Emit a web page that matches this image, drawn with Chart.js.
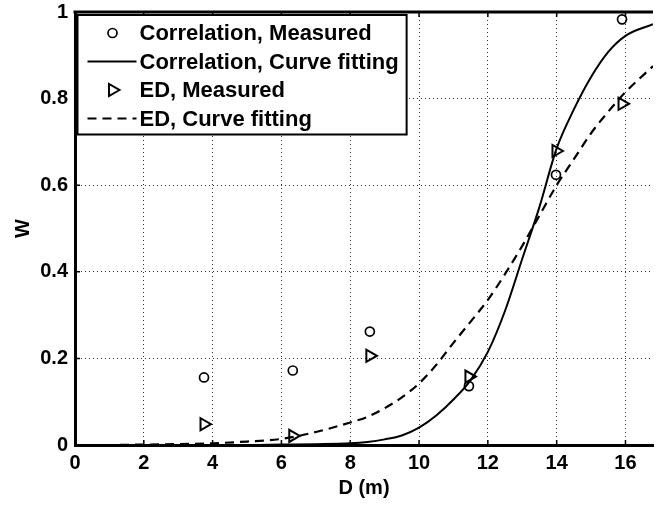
<!DOCTYPE html>
<html>
<head>
<meta charset="utf-8">
<script src="https://cdn.jsdelivr.net/npm/chart.js@4.4.0/dist/chart.umd.min.js"></script>
<style>
body { margin: 0; background: #fff; }
#wrap { width: 662px; height: 506px; }
</style>
</head>
<body>
<div id="wrap"><canvas id="chart" width="662" height="506"></canvas></div>
<script>
// measured points
var measuredD = [3.75, 6.33, 8.57, 11.45, 13.98, 15.9];
var corrMeasured = [0.156, 0.172, 0.262, 0.136, 0.624, 0.983];
var edMeasured = [0.048, 0.021, 0.206, 0.158, 0.679, 0.788];

// fitted curves
var fitD = [0, 1, 2, 3, 4, 5, 6, 7, 8, 8.5, 9, 9.5, 10, 10.5, 11, 11.5, 12, 12.5, 13, 13.5, 14, 14.5, 15, 15.5, 16, 16.8];
var corrFit = [0, 0, 0, 0, 0, 0, 0.001, 0.002, 0.004, 0.007, 0.013, 0.022, 0.04, 0.068, 0.105, 0.15, 0.215, 0.31, 0.43, 0.55, 0.685, 0.775, 0.85, 0.908, 0.945, 0.972];
var edFit = [0, 0, 0.001, 0.002, 0.004, 0.008, 0.014, 0.03, 0.052, 0.065, 0.085, 0.11, 0.142, 0.185, 0.236, 0.285, 0.335, 0.395, 0.46, 0.53, 0.6, 0.66, 0.72, 0.77, 0.815, 0.875];

var xTicks = [0, 2, 4, 6, 8, 10, 12, 14, 16];
var yTicks = [0, 0.2, 0.4, 0.6, 0.8, 1];

var FONT = '"Liberation Sans", Arial, sans-serif';
Chart.defaults.font.family = FONT;
Chart.defaults.color = '#000';

function pts(xs, ys) {
    return xs.map(function (x, i) { return { x: x, y: ys[i] }; });
}

var framePlugin = {
    id: 'frame',
    afterDatasetsDraw: function (chart) {
        var a = chart.chartArea, c = chart.ctx;
        var xs = chart.scales.x, ys = chart.scales.y;
        c.save();
        c.strokeStyle = '#000';
        c.lineWidth = 3;
        c.beginPath();
        c.moveTo(a.left - 1.5, a.top);
        c.lineTo(a.right, a.top);
        c.stroke();
        c.lineWidth = 1.5;
        c.beginPath();
        xTicks.forEach(function (v) {
            var px = xs.getPixelForValue(v);
            c.moveTo(px, a.top); c.lineTo(px, a.top + 5);
            c.moveTo(px, a.bottom); c.lineTo(px, a.bottom - 5);
        });
        yTicks.forEach(function (v) {
            var py = ys.getPixelForValue(v);
            c.moveTo(a.left, py); c.lineTo(a.left + 5, py);
        });
        c.stroke();
        c.restore();
    }
};

var legendPlugin = {
    id: 'insideLegend',
    afterDraw: function (chart) {
        var c = chart.ctx, a = chart.chartArea;
        var sets = chart.data.datasets;
        c.save();
        c.font = 'bold 22px ' + FONT;
        var w = 0;
        sets.forEach(function (d) { w = Math.max(w, c.measureText(d.label).width); });
        var left = a.left + 2.5, top = a.top + 3, rowH = 28.5;
        var textX = left + 62;
        var right = textX + w + 8;
        var bottom = top + 18 + rowH * 3 + 16;
        c.fillStyle = '#fff';
        c.fillRect(left, top, right - left, bottom - top);
        c.strokeStyle = '#000';
        c.lineWidth = 2;
        c.strokeRect(left, top, right - left, bottom - top);

        sets.forEach(function (d, i) {
            var y = top + 18 + rowH * i;
            c.strokeStyle = '#000';
            if (d.showLine) {
                c.lineWidth = d.borderWidth;
                c.setLineDash(d.borderDash || []);
                c.beginPath();
                c.moveTo(left + 10, y);
                c.lineTo(textX - 3, y);
                c.stroke();
                c.setLineDash([]);
            } else {
                c.lineWidth = d.pointBorderWidth;
                c.fillStyle = 'rgba(0,0,0,0)';
                Chart.helpers.drawPoint(c, {
                    pointStyle: d.pointStyle,
                    rotation: d.pointRotation || 0,
                    radius: d.pointRadius,
                    borderWidth: d.pointBorderWidth
                }, left + 35, y);
            }
            c.fillStyle = '#000';
            c.textBaseline = 'middle';
            c.textAlign = 'left';
            c.fillText(d.label, textX, y + 1);
        });
        c.restore();
    }
};

var ctx = document.getElementById('chart');
var myChart = new Chart(ctx, {
    type: 'scatter',
    data: {
        datasets: [{
            label: 'Correlation, Measured',
            data: pts(measuredD, corrMeasured),
            showLine: false,
            pointStyle: 'circle',
            pointRadius: 4.5,
            pointBorderWidth: 1.7,
            pointBorderColor: '#000',
            pointBackgroundColor: 'rgba(0,0,0,0)'
        }, {
            label: 'Correlation, Curve fitting',
            data: pts(fitD, corrFit),
            showLine: true,
            borderColor: '#000',
            borderWidth: 2,
            pointRadius: 0,
            cubicInterpolationMode: 'monotone'
        }, {
            label: 'ED, Measured',
            data: pts(measuredD, edMeasured),
            showLine: false,
            pointStyle: 'triangle',
            pointRotation: 90,
            pointRadius: 7,
            pointBorderWidth: 2,
            pointBorderColor: '#000',
            pointBackgroundColor: 'rgba(0,0,0,0)'
        }, {
            label: 'ED, Curve fitting',
            data: pts(fitD, edFit),
            showLine: true,
            borderColor: '#000',
            borderWidth: 2.2,
            borderDash: [9, 6],
            pointRadius: 0,
            cubicInterpolationMode: 'monotone'
        }]
    },
    options: {
        responsive: false,
        animation: false,
        layout: { padding: { top: 12, right: 0, left: 0, bottom: 0 } },
        plugins: {
            legend: { display: false },
            tooltip: { enabled: false }
        },
        scales: {
            x: {
                type: 'linear',
                min: 0,
                max: 16.8,
                afterBuildTicks: function (s) { s.ticks = xTicks.map(function (v) { return { value: v }; }); },
                afterFit: function (s) { s.height = 61; s.paddingRight = 0; },
                ticks: { font: { size: 20, weight: 'bold' }, color: '#000', padding: 6, maxRotation: 0, autoSkip: false },
                grid: { color: '#333', lineWidth: 1, drawTicks: false },
                border: { color: '#000', width: 3, dash: [1, 3] },
                title: { display: true, text: 'D (m)', font: { size: 20, weight: 'bold' }, color: '#000', padding: { top: 0, bottom: 6 } }
            },
            y: {
                type: 'linear',
                min: 0,
                max: 1,
                afterBuildTicks: function (s) { s.ticks = yTicks.map(function (v) { return { value: v }; }); },
                afterFit: function (s) { s.width = 75; s.paddingTop = 0; s.paddingBottom = 0; },
                ticks: {
                    font: { size: 20, weight: 'bold' }, color: '#000', padding: 7,
                    callback: function (v) { return String(v); }
                },
                grid: { color: '#333', lineWidth: 1, drawTicks: false },
                border: { color: '#000', width: 3, dash: [1, 3] },
                title: { display: true, text: 'W', font: { size: 20, weight: 'bold' }, color: '#000', padding: { top: 11, bottom: 0 } }
            }
        }
    },
    plugins: [framePlugin, legendPlugin]
});
</script>
</body>
</html>
